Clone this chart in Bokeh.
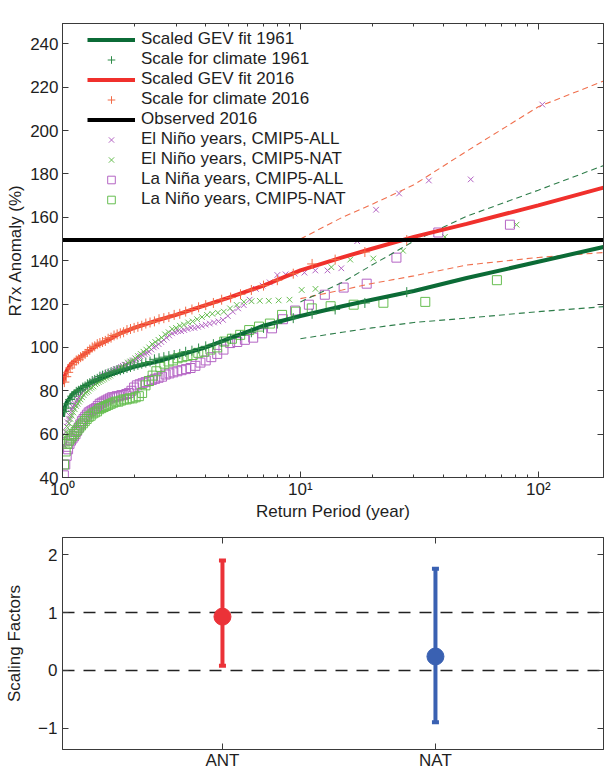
from bokeh.plotting import figure
from bokeh.models import (Range1d, LogAxis, LinearAxis, FixedTicker, Legend, LegendItem,
                          Label, CustomJSTickFormatter)
from bokeh.layouts import column
from bokeh.embed import file_html
from bokeh.resources import INLINE

# ---------------- data: panel (a) ----------------
X_MIN, X_MAX = 1, 188
Y_MIN, Y_MAX = 40, 249.4

gev_rp = [1.005, 1.01, 1.02, 1.04, 1.07, 1.1, 1.15, 1.2, 1.3, 1.4, 1.5, 1.75, 2, 2.5, 3, 4, 5, 7,
          10, 15, 20, 30, 50, 100, 200]
gev_1961 = [68, 70, 72, 74.5, 76.5, 78.5, 80, 81.5, 83.5, 85, 86.5, 89, 91, 93.5, 96, 100, 104, 110,
            114.5, 119, 122, 126, 132, 139.5, 147]
gev_2016 = [83, 84.5, 86.5, 89, 91.5, 93, 94.5, 96, 98.5, 101, 102.5, 106.5, 109, 112.5, 115, 119.5,
            123, 128.5, 135.5, 141.5, 145.5, 151, 157, 165.5, 174.5]

ci_rp = [10, 15, 20, 30, 50, 100, 200]
ci_2016_hi = [150, 160, 166, 175, 190.5, 211, 224]
ci_2016_lo = [122.5, 126.5, 129.5, 133, 138, 141.5, 144]
ci_1961_hi = [121, 130, 138, 149, 160.5, 172.5, 185]
ci_1961_lo = [104, 107, 109, 111.5, 113.5, 116.5, 119]

observed_2016 = 149.5

# observed values scaled to each climate (ranks 2..55 of 55 years)
scaled_1961 = [125.5, 120.5, 117.5, 115.5, 113.5, 111, 109, 107, 105.5, 104, 102.5, 101.5, 100.5,
               99.5, 98.5, 98, 97, 96.5, 96, 95.5, 95, 94.5, 93.5, 93, 92.5, 92, 91.5, 91, 90.5, 90,
               89.5, 89.5, 89, 88.5, 88, 87.5, 87, 86.5, 85.5, 85, 84.5, 83.5, 83, 82, 81.5, 80.5,
               80, 79.5, 78.5, 77.5, 76, 74, 72, 70.5]
scaled_2016 = [149.5, 144, 140.5, 138.5, 134, 131, 128.5, 126.5, 124.5, 123, 122, 120.5, 119.5,
               118.5, 117.5, 116.5, 115.5, 115, 114, 113.5, 113, 112, 111.5, 111, 110, 109.5, 109,
               108.5, 108, 107, 106.5, 106, 105.5, 104.5, 104, 103, 102.5, 102, 101.5, 100.5, 100,
               99, 98, 97, 96, 95.5, 94.5, 94, 93, 92, 90.5, 88.5, 86.5, 84]
n_obs_years = 55

# CMIP5 samples, sorted descending (rank 1 = largest)
elnino_all = [212, 177.5, 177, 171, 163.5, 149, 136.5, 135.5, 135.5, 134.5, 134, 133.7, 133.4, 130,
              128.5, 127, 122, 119.5, 118, 116.5, 114.5, 112.7, 112, 111.5, 111, 110.5, 110, 109.5,
              109, 109, 108.5, 108, 107.5, 107.5, 107, 106.5, 105.5, 104.5, 103.5, 102.5, 101.5,
              100.5, 100, 99, 98, 97.5, 97, 96.5, 96, 95, 94.5, 94, 93.5, 93, 92.5, 92, 92, 91.5, 91,
              90.5, 90, 90, 89.5, 89, 88.5, 88.5, 88, 87.5, 87, 87, 86.5, 86, 85.5, 85, 85, 84.5, 84,
              83.5, 83, 82.5, 82, 81.5, 81, 80.5, 80, 79, 78.5, 77.5, 77, 76, 75, 74, 73.5, 72.5,
              71.5, 70, 68.5, 67, 65.5, 63.5, 61, 58, 55]
elnino_nat = [156.6, 151, 144.6, 141, 140.5, 137, 127, 126.5, 122, 121.7, 121.5, 121.5, 121.3, 121,
              119.6, 118, 116.5, 116, 115.5, 115, 114, 113, 112, 111.5, 110.5, 110, 109, 108.5, 107,
              106, 104.5, 103.5, 102.5, 101.5, 100, 99, 98, 97, 96, 95, 94, 93.5, 93, 92, 91, 90.5,
              90, 89, 88.5, 88, 87, 86.5, 86, 85.5, 85, 84.5, 84, 83.5, 83, 82, 81.5, 81, 80, 79.5,
              79, 78, 77, 76, 75, 74, 73, 71.5, 70, 68.5, 67, 65, 63, 61, 58.5, 55]
lanina_all = [156.6, 153, 141.4, 129.4, 127.6, 124.3, 119.7, 117, 113, 108.8, 106.5, 104.5, 103.5,
              102.5, 102, 99, 97, 95.5, 94, 93, 91.5, 90.5, 90, 89.5, 89, 88.5, 88, 87.5, 86.5, 86,
              85.5, 85, 84.5, 84, 83.5, 83, 82.5, 81.5, 80, 79, 78.5, 78, 78, 77.5, 77.5, 77, 77,
              76.5, 76, 75.5, 75, 74.5, 74, 73, 72, 71.5, 71, 70.5, 70, 69, 68, 67, 66, 64.5, 63,
              61.5, 60, 59, 58, 57, 55.5, 53, 50, 46, 41]
lanina_nat = [131, 121, 120.6, 119.7, 119, 118, 116.5, 115, 111, 109.6, 108, 105.8, 104, 102.7, 100,
              99, 98, 97.5, 96.5, 96, 95.5, 95, 94, 93.5, 92.5, 91, 89, 87, 84.5, 82.5, 79, 77.5, 77,
              76.5, 76.5, 76, 76, 75.5, 75, 75, 74.5, 74, 73.5, 73, 72.5, 72, 71.5, 70.5, 70, 69.5,
              68.5, 68, 67, 66, 65, 64, 63, 62, 61, 60, 59, 58, 57, 55.5, 52, 46]

x_ticks = [1, 10, 100]
x_minor = [2, 3, 4, 5, 6, 7, 8, 9, 20, 30, 40, 50, 60, 70, 80, 90]
y_ticks = [40, 60, 80, 100, 120, 140, 160, 180, 200, 220, 240]

# ---------------- data: panel (b) ----------------
factors = ["ANT", "NAT"]
positions = [1, 2]
best = [0.93, 0.24]
lower = [0.08, -0.9]
upper = [1.9, 1.76]
factor_colors = ["#EB3238", "#3A61B2"]
ref_levels = [0, 1]
b_ticks = [-1, 0, 1, 2]


def return_periods(values, first_rank=1, n=None):
    n = len(values) if n is None else n
    return [(n + 1) / (first_rank + i) for i in range(len(values))]


FONT = "Liberation Sans"
AX = "#3a3a3a"
TXT = "#1e1e1e"
FS = "17px"


def style_axis(ax, labels=True):
    ax.axis_line_color = AX
    ax.major_tick_line_color = AX
    ax.minor_tick_line_color = AX
    ax.major_tick_in = 6
    ax.major_tick_out = 0
    ax.minor_tick_in = 3
    ax.minor_tick_out = 0
    ax.major_label_text_font = FONT
    ax.major_label_text_font_size = FS
    ax.major_label_text_color = TXT
    ax.axis_label_text_font = FONT
    ax.axis_label_text_font_size = FS
    ax.axis_label_text_font_style = "normal"
    ax.axis_label_text_color = TXT
    if not labels:
        ax.formatter = CustomJSTickFormatter(code="return '';")
        ax.major_label_standoff = 0


# ---------------- panel (a) ----------------
p1 = figure(width=604, height=523, x_axis_type="log",
            x_range=Range1d(X_MIN, X_MAX), y_range=Range1d(Y_MIN, Y_MAX),
            output_backend="svg", toolbar_location=None,
            min_border_left=62, min_border_right=1, min_border_top=23, min_border_bottom=46)
p1.xgrid.visible = False
p1.ygrid.visible = False
p1.outline_line_color = AX

xt = FixedTicker(ticks=x_ticks, minor_ticks=x_minor)
yt = FixedTicker(ticks=y_ticks)
p1.xaxis.ticker = xt
p1.yaxis.ticker = yt
p1.xaxis.formatter = CustomJSTickFormatter(
    code="const s = ['\u2070','\u00b9','\u00b2','\u00b3']; return '10' + s[Math.round(Math.log10(tick))];")
style_axis(p1.xaxis[0])
style_axis(p1.yaxis[0])
p1.yaxis.minor_tick_line_color = None
p1.xaxis.axis_label = "Return Period (year)"
p1.yaxis.axis_label = "R7x Anomaly (%)"
p1.xaxis.major_label_standoff = 2
p1.xaxis.axis_label_standoff = 0
p1.yaxis.major_label_standoff = 4
p1.yaxis.axis_label_standoff = 2

top_ax = LogAxis(ticker=xt)
style_axis(top_ax, labels=False)
p1.add_layout(top_ax, "above")
right_ax = LinearAxis(ticker=yt)
style_axis(right_ax, labels=False)
right_ax.minor_tick_line_color = None
p1.add_layout(right_ax, "right")

C_ALL = "#B464C4"
C_NAT = "#66BE50"

r_ea = p1.scatter(return_periods(elnino_all), elnino_all, marker="x", size=8,
                  line_color=C_ALL, line_width=1)
r_en = p1.scatter(return_periods(elnino_nat), elnino_nat, marker="x", size=8,
                  line_color=C_NAT, line_width=1)
r_la = p1.scatter(return_periods(lanina_all), lanina_all, marker="square", size=9,
                  line_color=C_ALL, fill_color=None, line_width=1)
r_ln = p1.scatter(return_periods(lanina_nat), lanina_nat, marker="square", size=9,
                  line_color=C_NAT, fill_color=None, line_width=1)

for ys, col in [(ci_2016_hi, "#F0704E"), (ci_2016_lo, "#F0704E"),
                (ci_1961_hi, "#2E7D4A"), (ci_1961_lo, "#2E7D4A")]:
    p1.line(ci_rp, ys, line_color=col, line_width=1.1, line_dash="6 4")

r_g61 = p1.line(gev_rp, gev_1961, line_color="#0B6B36", line_width=4)
r_g16 = p1.line(gev_rp, gev_2016, line_color="#F0302C", line_width=4)
r_s61 = p1.scatter(return_periods(scaled_1961, first_rank=2, n=n_obs_years), scaled_1961,
                   marker="cross", size=10, line_color="#2E8B48", line_width=1)
r_s16 = p1.scatter(return_periods(scaled_2016, first_rank=2, n=n_obs_years), scaled_2016,
                   marker="cross", size=10, line_color="#F26A46", line_width=1)
r_obs = p1.line([X_MIN, X_MAX], [observed_2016, observed_2016], line_color="black", line_width=4)

legend = Legend(items=[
    LegendItem(label="Scaled GEV fit 1961", renderers=[r_g61]),
    LegendItem(label="Scale for climate 1961", renderers=[r_s61]),
    LegendItem(label="Scaled GEV fit 2016", renderers=[r_g16]),
    LegendItem(label="Scale for climate 2016", renderers=[r_s16]),
    LegendItem(label="Observed 2016", renderers=[r_obs]),
    LegendItem(label="El Niño years, CMIP5-ALL", renderers=[r_ea]),
    LegendItem(label="El Niño years, CMIP5-NAT", renderers=[r_en]),
    LegendItem(label="La Niña years, CMIP5-ALL", renderers=[r_la]),
    LegendItem(label="La Niño years, CMIP5-NAT", renderers=[r_ln]),
], location=(25, 268))
legend.padding = 0
legend.margin = 0
legend.spacing = 0
legend.label_height = 19
legend.glyph_height = 19
legend.glyph_width = 48
legend.label_standoff = 6
legend.label_text_font = FONT
legend.label_text_font_size = FS
legend.label_text_color = TXT
legend.background_fill_alpha = 0
legend.border_line_alpha = 0
p1.add_layout(legend)

p1.add_layout(Label(x=0.647, y=253.1, text="(a)", text_align="center", text_baseline="middle",
                    text_font=FONT, text_font_size=FS, text_color=TXT))

# ---------------- panel (b) ----------------
p2 = figure(width=604, height=249, x_range=Range1d(0.249, 2.789), y_range=Range1d(-1.37, 2.3),
            output_backend="svg", toolbar_location=None,
            min_border_left=62, min_border_right=1, min_border_top=14, min_border_bottom=22)
p2.xgrid.visible = False
p2.ygrid.visible = False
p2.outline_line_color = AX
bxt = FixedTicker(ticks=positions)
byt = FixedTicker(ticks=b_ticks)
p2.xaxis.ticker = bxt
p2.yaxis.ticker = byt
p2.xaxis.formatter = CustomJSTickFormatter(args=dict(labels=factors),
                                           code="return labels[Math.round(tick) - 1];")
p2.yaxis.formatter = CustomJSTickFormatter(
    code="return tick < 0 ? '\u2212' + Math.abs(tick) : String(tick);")
style_axis(p2.xaxis[0])
style_axis(p2.yaxis[0])
p2.xaxis.minor_tick_line_color = None
p2.yaxis.minor_tick_line_color = None
p2.xaxis.major_label_standoff = 1
p2.yaxis.major_label_standoff = 5
p2.yaxis.axis_label = "Scaling Factors"
p2.yaxis.axis_label_standoff = 11
t2 = LinearAxis(ticker=bxt)
style_axis(t2, labels=False)
t2.minor_tick_line_color = None
p2.add_layout(t2, "above")
r2 = LinearAxis(ticker=byt)
style_axis(r2, labels=False)
r2.minor_tick_line_color = None
p2.add_layout(r2, "right")

p2.segment(x0=positions, y0=lower, x1=positions, y1=upper, line_color=factor_colors, line_width=4)
p2.rect(x=positions + positions, y=lower + upper, width=7, height=4,
        width_units="screen", height_units="screen",
        fill_color=factor_colors + factor_colors, line_color=None)
p2.hspan(y=ref_levels, line_color="#222222", line_width=1.3, line_dash="12 9")
p2.scatter(positions, best, size=17, fill_color=factor_colors, line_color=factor_colors)

p2.add_layout(Label(x=0.042, y=2.231, text="(b)", text_align="center", text_baseline="middle",
                    text_font=FONT, text_font_size=FS, text_color=TXT))

layout = column(p1, p2)
open("out.html", "w").write(file_html(layout, INLINE))
